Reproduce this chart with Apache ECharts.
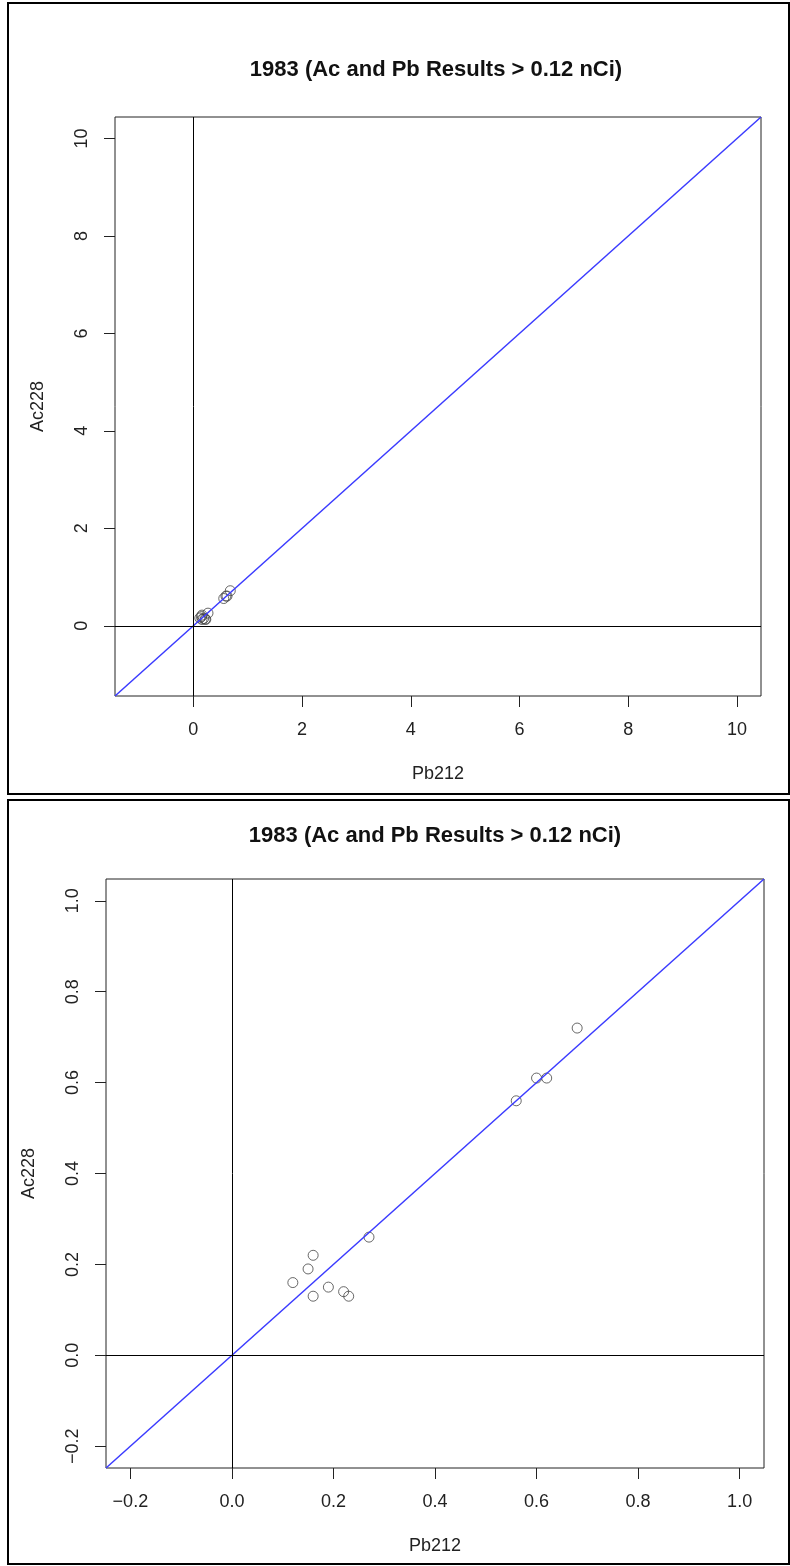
<!DOCTYPE html>
<html>
<head>
<meta charset="utf-8">
<script src="https://cdn.jsdelivr.net/npm/echarts@6/dist/echarts.min.js"></script>
<style>
html, body { margin: 0; padding: 0; background: #fff; }
#main { width: 790px; height: 1566px; }
</style>
</head>
<body>
<div id="main"></div>
<script>
// 1983 results above 0.12 nCi
var pb212 = [0.12, 0.15, 0.16, 0.16, 0.19, 0.22, 0.23, 0.27, 0.56, 0.60, 0.62, 0.68];
var ac228 = [0.16, 0.19, 0.22, 0.13, 0.15, 0.14, 0.13, 0.26, 0.56, 0.61, 0.61, 0.72];

var topLim = [-1, 10];
var topTicks = [0, 2, 4, 6, 8, 10];
var bottomLim = [-0.2, 1.0];
var bottomTicks = [-0.2, 0, 0.2, 0.4, 0.6, 0.8, 1.0];

var titleText = '1983 (Ac and Pb Results > 0.12 nCi)';
var font = "'Liberation Sans', Arial, sans-serif";

// R style 4% range expansion
function expand(lim) {
    var r = lim[1] - lim[0];
    return [lim[0] - 0.04 * r, lim[1] + 0.04 * r];
}

var panels = [
    {
        lim: expand(topLim), ticks: topTicks,
        fmt: function (v) { return String(v); },
        grid: { left: 115, top: 117, width: 646, height: 579 },
        titleX: 436, titleY: 70
    },
    {
        lim: expand(bottomLim), ticks: bottomTicks,
        fmt: function (v) { return v.toFixed(1).replace('-', '\u2212'); },
        grid: { left: 106, top: 879, width: 658, height: 589 },
        titleX: 435, titleY: 836
    }
];

var points = pb212.map(function (x, i) { return [x, ac228[i]]; });

var option = {
    animation: false,
    backgroundColor: '#fff',
    title: [],
    grid: [],
    xAxis: [],
    yAxis: [],
    series: [],
    graphic: [
        { type: 'rect', shape: { x: 8, y: 3, width: 781, height: 791 }, style: { fill: 'none', stroke: '#000', lineWidth: 2 } },
        { type: 'rect', shape: { x: 8, y: 800, width: 781, height: 764 }, style: { fill: 'none', stroke: '#000', lineWidth: 2 } }
    ]
};

panels.forEach(function (p, i) {
    option.title.push({
        text: titleText,
        left: p.titleX,
        top: p.titleY - 11,
        textAlign: 'center',
        padding: 0,
        textStyle: { fontSize: 22, fontWeight: 'bold', color: '#111', fontFamily: font }
    });
    option.grid.push({
        left: p.grid.left, top: p.grid.top, width: p.grid.width, height: p.grid.height,
        show: true, borderColor: '#222', borderWidth: 1, backgroundColor: 'transparent'
    });
    option.xAxis.push({
        type: 'value', gridIndex: i, min: p.lim[0], max: p.lim[1],
        position: 'bottom',
        axisLine: { show: false, onZero: false },
        splitLine: { show: false },
        axisTick: { show: true, inside: false, length: 11, customValues: p.ticks, lineStyle: { color: '#222' } },
        axisLabel: { customValues: p.ticks, formatter: p.fmt, margin: 25, fontSize: 18, color: '#222', fontFamily: font },
        name: 'Pb212', nameLocation: 'middle', nameGap: 69,
        nameTextStyle: { fontSize: 18, color: '#222', fontFamily: font }
    });
    option.yAxis.push({
        type: 'value', gridIndex: i, min: p.lim[0], max: p.lim[1],
        position: 'left',
        axisLine: { show: false, onZero: false },
        splitLine: { show: false },
        axisTick: { show: true, inside: false, length: 11, customValues: p.ticks, lineStyle: { color: '#222' } },
        axisLabel: { customValues: p.ticks, formatter: p.fmt, margin: 24, rotate: 90, fontSize: 18, color: '#222', fontFamily: font },
        name: 'Ac228', nameLocation: 'middle', nameGap: 68, nameRotate: 90,
        nameTextStyle: { fontSize: 18, color: '#222', fontFamily: font }
    });
    // points
    option.series.push({
        type: 'scatter', xAxisIndex: i, yAxisIndex: i,
        data: points,
        symbol: 'circle', symbolSize: 10,
        itemStyle: { color: 'rgba(0,0,0,0)', borderColor: '#444', borderWidth: 1 },
        markLine: {
            silent: true, symbol: 'none', label: { show: false },
            lineStyle: { color: '#000', width: 1, type: 'solid' },
            data: [{ xAxis: 0 }, { yAxis: 0 }]
        },
        z: 2
    });
    // abline(0, 1)
    option.series.push({
        type: 'line', xAxisIndex: i, yAxisIndex: i,
        data: [[p.lim[0], p.lim[0]], [p.lim[1], p.lim[1]]],
        showSymbol: false, silent: true,
        lineStyle: { color: '#3b3bff', width: 1.5 },
        z: 3
    });
});

var myChart = echarts.init(document.getElementById('main'));
myChart.setOption(option);
</script>
</body>
</html>
